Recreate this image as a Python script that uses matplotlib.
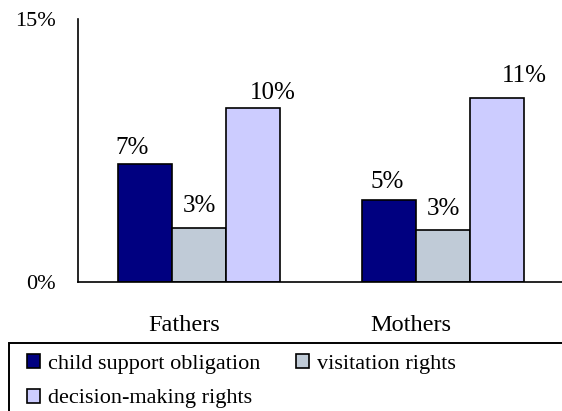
import numpy as np
import matplotlib.pyplot as plt
from matplotlib.patches import Rectangle

# data
groups = ["Fathers", "Mothers"]
series = ["child support obligation", "visitation rights", "decision-making rights"]
child_support = [6.75, 4.68]
visitation = [3.08, 2.97]
decision = [9.94, 10.5]
bar_labels = [["7%", "3%", "10%"], ["5%", "3%", "11%"]]
y_ticks = [0, 15]
y_tick_labels = ["0%", "15%"]

colors = ["#000080", "#C0CBD7", "#CCCCFF"]
# label offsets in points (dx, dy from bar top to baseline)
label_offsets = [[(-9.5, 7.2), (0, 11.5), (14.5, 6.5)],
                 [(-1, 8.6), (0, 10.8), (20, 11.5)]]

plt.rcParams['font.family'] = ['Liberation Serif', 'DejaVu Serif']

fig = plt.figure(figsize=(5.62, 4.11), dpi=100)
ax = fig.add_axes([78 / 562, 1 - 282 / 411, 1 - 78 / 562, (282 - 19) / 411])

x = np.arange(len(groups))
width = 54 / 244
values = [child_support, visitation, decision]
handles = []
for i, (vals, col, name) in enumerate(zip(values, colors, series)):
    bars = ax.bar(x + (i - 1) * width, vals, width, color=col,
                  edgecolor='black', linewidth=1.2, label=name)
    handles.append(bars)
    for j, b in enumerate(bars):
        dx, dy = label_offsets[j][i]
        ax.annotate(bar_labels[j][i], (b.get_x() + b.get_width() / 2, b.get_height()),
                    xytext=(dx, dy), textcoords='offset points',
                    ha='center', va='baseline', fontsize=18)

ax.set_xlim(-0.496, 1.488)
ax.set_ylim(0, 15)
ax.set_yticks(y_ticks)
ax.set_yticklabels(y_tick_labels, fontsize=16)
ax.set_xticks([-0.06, 0.87])
ax.set_xticklabels(groups, fontsize=17.5)
ax.tick_params(axis='both', length=0)
ax.tick_params(axis='y', pad=16)
ax.tick_params(axis='x', pad=24)
for s in ['top', 'right']:
    ax.spines[s].set_visible(False)
for s in ['left', 'bottom']:
    ax.spines[s].set_linewidth(1.2)
ax.spines['bottom'].set_clip_on(False)

# legend frame runs past the figure edge
fig.patches.append(Rectangle((9 / 562, -0.1), 1.2, 1 - 343 / 411 + 0.1,
                             transform=fig.transFigure, fill=False,
                             edgecolor='black', linewidth=1.4))
order = [0, 2, 1]
fig.legend([handles[k] for k in order], [series[k] for k in order],
           ncol=2, loc='upper left', bbox_to_anchor=(27 / 562, 1 - 354 / 411),
           frameon=False, fontsize=16, handlelength=0.6, handleheight=0.6,
           handletextpad=0.35, columnspacing=1.59, labelspacing=0.66,
           borderpad=0, borderaxespad=0)

fig.savefig("out.png", dpi=100)
